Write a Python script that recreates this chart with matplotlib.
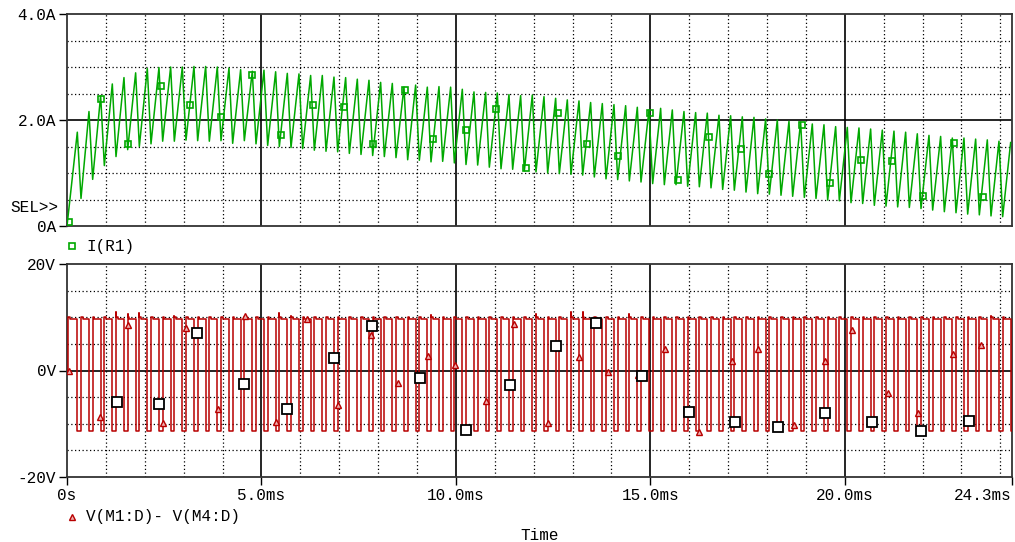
import matplotlib
matplotlib.use("Agg")
import matplotlib.pyplot as plt
import numpy as np

# ---- data (time in ms) ----
T_PERIOD = 0.3        # switching period
T_FIRST_PEAK = 0.265  # first current peak
T_FALL = 0.095        # falling (low voltage) part of each period
T_END = 24.3

# I(R1): peak and trough value of each switching cycle (A)
i_peaks = [1.77, 2.16, 2.46, 2.68, 2.80, 2.89, 2.97, 2.99, 3.00, 3.00,
           3.01, 3.01, 3.00, 2.98, 2.95, 2.92, 2.94, 2.91, 2.88, 2.87,
           2.84, 2.84, 2.81, 2.80, 2.77, 2.75, 2.71, 2.69, 2.62, 2.66,
           2.62, 2.63, 2.62, 2.58, 2.53, 2.52, 2.51, 2.48, 2.46,
           2.47, 2.44, 2.41, 2.38, 2.36, 2.33, 2.31, 2.29, 2.27, 2.24,
           2.19, 2.22, 2.19, 2.16, 2.14, 2.13, 2.09, 2.08, 2.06, 2.05, 2.02,
           2.00, 1.975, 1.96, 1.925, 1.91, 1.875, 1.86, 1.85, 1.83, 1.81,
           1.79, 1.77, 1.74, 1.71, 1.69, 1.66, 1.66, 1.64, 1.625, 1.60, 1.575]
i_troughs = [0.52, 0.88, 1.14, 1.31, 1.44, 1.50, 1.55, 1.60, 1.60, 1.62,
             1.61, 1.60, 1.61, 1.56, 1.61, 1.55, 1.52, 1.50, 1.48, 1.46,
             1.43, 1.41, 1.40, 1.37, 1.35, 1.33, 1.31, 1.29, 1.25, 1.24,
             1.21, 1.22, 1.19, 1.16, 1.15, 1.11, 1.08, 1.07, 1.04,
             1.02, 1.00, 0.99, 0.975, 0.96, 0.925, 0.89, 0.875, 0.85, 0.83,
             0.80, 0.78, 0.78, 0.75, 0.74, 0.72, 0.69, 0.675, 0.64, 0.61, 0.60,
             0.58, 0.56, 0.54, 0.52, 0.49, 0.475, 0.44, 0.425, 0.39, 0.375,
             0.36, 0.35, 0.33, 0.30, 0.27, 0.25, 0.225, 0.21, 0.19, 0.175]

# symbols drawn on the I(R1) trace
i_mark_t = [0.06, 0.87, 1.58, 2.42, 3.16, 3.96, 4.75, 5.50, 6.32, 7.12,
            7.88, 8.69, 9.42, 10.25, 11.03, 11.80, 12.62, 13.37, 14.16, 14.99,
            15.71, 16.52, 17.33, 18.04, 18.91, 19.63, 20.42, 21.21, 22.00,
            22.82, 23.55]
i_mark_v = [0.08, 2.39, 1.54, 2.65, 2.29, 2.05, 2.85, 1.71, 2.29, 2.24,
            1.55, 2.56, 1.64, 1.81, 2.20, 1.09, 2.125, 1.55, 1.33, 2.125,
            0.875, 1.67, 1.46, 0.975, 1.91, 0.81, 1.24, 1.22, 0.57,
            1.575, 0.55]

# V(M1:D)-V(M4:D) levels (V)
v_high_start = 10.1
v_high = 9.7
v_low = -11.4
spike_cycles = [3, 4, 5, 8, 17, 18, 30, 39, 42, 43, 47, 78]
spike_values = [11.0, 10.6, 10.8, 10.3, 10.8, 10.3, 10.5, 10.7, 10.9, 10.9, 10.7, 10.2]

# triangle symbols on the voltage trace
v_tri_t = [0.06, 0.85, 1.58, 2.46, 3.06, 3.89, 4.58, 5.37, 6.17, 6.97,
           7.82, 8.51, 9.29, 9.98, 10.78, 11.50, 12.38, 13.17, 13.90, 14.69,
           15.38, 16.25, 17.09, 17.78, 18.70, 19.49, 20.18, 21.10, 21.89,
           22.79, 23.50]
v_tri_v = [0.0, -8.8, 8.57, -9.9, 8.07, -7.27, 10.3, -9.75, 9.68, -6.52,
           6.70, -2.42, 2.8, 1.12, -5.7, 8.76, -9.9, 2.55, -0.3, -0.9,
           4.1, -11.5, 1.86, 4.04, -10.2, 1.86, 7.6, -4.3, -7.9,
           3.1, 4.7]

# large white squares in the lower plot
sq_t = [1.28, 2.36, 3.34, 4.56, 5.65, 6.87, 7.84, 9.08, 10.26, 11.38,
        12.57, 13.60, 14.78, 16.00, 17.18, 18.29, 19.48, 20.70, 21.96, 23.20]
sq_v = [-5.84, -6.34, 7.02, -2.55, -7.27, 2.3, 8.4, -1.5, -11.1, -2.73,
        4.66, 9.0, -1.06, -7.8, -9.6, -10.6, -8.0, -9.6, -11.3, -9.4]

x_ticks = [0, 5, 10, 15, 20, 24.3]
x_labels = ["0s", "5.0ms", "10.0ms", "15.0ms", "20.0ms", "24.3ms"]

# ---- build the waveforms ----
n = len(i_peaks)
t_peak = [T_FIRST_PEAK + k * T_PERIOD for k in range(n)]
t_trough = [tp + T_FALL for tp in t_peak[:-1]]

cur_t = [0.0]
cur_v = [0.0]
for k in range(n):
    cur_t.append(t_peak[k])
    cur_v.append(i_peaks[k])
    if k < len(i_troughs):
        cur_t.append(t_trough[k])
        cur_v.append(i_troughs[k])

spikes = dict(zip(spike_cycles, spike_values))
vt = [0.0, 0.03, 0.03, 0.08, 0.08]
vv = [0.0, 0.0, v_high_start, v_high_start, v_high]
for k in range(n):
    vt += [t_peak[k], t_peak[k]]
    vv += [v_high, v_low]
    if k < len(t_trough):
        top = spikes.get(k, v_high_start)
        vt += [t_trough[k], t_trough[k], t_trough[k], t_trough[k] + 0.04, t_trough[k] + 0.04]
        vv += [v_low, top, v_high_start, v_high_start, v_high]
vt.append(T_END)
vv.append(v_low)

# ---- figure ----
W, H = 1015, 542
fig = plt.figure(figsize=(W / 100, H / 100), dpi=100)
font = "Liberation Mono"
fs = 11.5
green = "#00a800"
red = "#b80000"

def fx(px):
    return px / W

def fy(py):
    return 1 - py / H

ax1 = fig.add_axes([fx(67), fy(226), fx(1012) - fx(67), fy(14) - fy(226)])
ax2 = fig.add_axes([fx(67), fy(477), fx(1012) - fx(67), fy(264) - fy(477)])

for ax in (ax1, ax2):
    ax.set_xlim(0, T_END)
    for m in range(1, 25):
        if m % 5 == 0:
            ax.axvline(m, color="black", lw=1.2, zorder=1)
        else:
            ax.axvline(m, color="black", lw=0.9, ls=(0, (1, 2)), zorder=1)
    for s in ax.spines.values():
        s.set_color("#333333")
        s.set_linewidth(1.3)
    ax.tick_params(direction="out", length=6, width=1, colors="black",
                   labelsize=fs, pad=2)

# top: current
ax1.set_ylim(0, 4)
for y in np.arange(0.5, 4, 0.5):
    if y == 2:
        ax1.axhline(y, color="black", lw=1.2, zorder=1)
    else:
        ax1.axhline(y, color="black", lw=0.9, ls=(0, (1, 2)), zorder=1)
ax1.plot(cur_t, cur_v, color=green, lw=1.1, zorder=3)
ax1.plot(i_mark_t, i_mark_v, ls="none", marker="s", ms=4.5, mfc="none",
         mec=green, mew=1.2, zorder=4)
ax1.set_yticks([0, 2, 4])
ax1.set_yticklabels(["0A", "2.0A", "4.0A"], family=font)
ax1.set_xticks([])

# bottom: voltage
ax2.set_ylim(-20, 20)
for y in [-15, -10, -5, 5, 10, 15]:
    ax2.axhline(y, color="black", lw=0.9, ls=(0, (1, 2)), zorder=1)
ax2.axhline(0, color="black", lw=1.2, zorder=1)
ax2.plot(vt, vv, color=red, lw=1.1, zorder=3)
ax2.plot(v_tri_t, v_tri_v, ls="none", marker="^", ms=4, mfc="#f0b0b0",
         mec=red, mew=1.0, zorder=4)
ax2.plot(sq_t, sq_v, ls="none", marker="s", ms=7.5, mfc="white",
         mec="black", mew=1.3, zorder=5)
ax2.set_yticks([-20, 0, 20])
ax2.set_yticklabels(["-20V", "0V", "20V"], family=font)
ax2.set_xticks(x_ticks)
ax2.set_xticklabels(x_labels, family=font)
ax2.tick_params(axis="x", pad=2)
ax2.get_xticklabels()[-1].set_horizontalalignment("right")
ax2.get_xticklabels()[-1].set_x(T_END + 0.02)

# labels and legends
fig.text(fx(10), fy(208), "SEL>>", family=font, fontsize=fs, va="center")
fig.lines.append(plt.Line2D([fx(72)], [fy(246)], transform=fig.transFigure,
                            ls="none", marker="s", ms=4.5, mfc="none", mec=green, mew=1.2))
fig.text(fx(86), fy(246), "I(R1)", family=font, fontsize=fs, va="center")
fig.lines.append(plt.Line2D([fx(72)], [fy(517)], transform=fig.transFigure,
                            ls="none", marker="^", ms=4, mfc="#f0b0b0", mec=red, mew=1.0))
fig.text(fx(86), fy(516), "V(M1:D)- V(M4:D)", family=font, fontsize=fs, va="center")
fig.text(fx(540), fy(535), "Time", family=font, fontsize=fs, ha="center", va="center")

fig.savefig("out.png", dpi=100)
